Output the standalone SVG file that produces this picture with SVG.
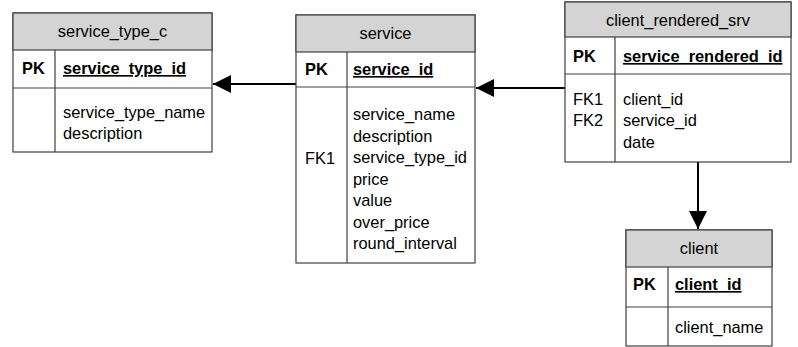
<svg xmlns="http://www.w3.org/2000/svg" width="798" height="347" viewBox="0 0 798 347">
<style>
.box{fill:#fff;stroke:#404040;stroke-width:1.2}
.hdr{fill:#d4d4d4;stroke:#404040;stroke-width:1.2}
.ln{stroke:#404040;stroke-width:1.2;fill:none}
text{font-family:"Liberation Sans",Arial,sans-serif;font-size:16.4px;fill:#000}
.h{text-anchor:middle}
.b{font-weight:bold}
.u{text-decoration:underline}
.conn{stroke:#000;stroke-width:2;fill:none}
</style>
<defs>
<marker id="arr" viewBox="0 0 18 18" refX="18" refY="9" markerWidth="18" markerHeight="18" markerUnits="userSpaceOnUse" orient="auto">
<path d="M0,0 L18,9 L0,18 Z" fill="#000"/>
</marker>
</defs>
<g id="connectors">
<line class="conn" x1="296" y1="84" x2="213" y2="84" marker-end="url(#arr)"/>
<line class="conn" x1="565" y1="88" x2="476" y2="88" marker-end="url(#arr)"/>
<line class="conn" x1="698" y1="162" x2="698" y2="229" marker-end="url(#arr)"/>
</g>
<g id="service_type_c">
<rect class="box" x="13" y="13" width="199" height="139"/>
<rect class="hdr" x="13" y="13" width="199" height="37"/>
<line class="ln" x1="13" y1="88" x2="212" y2="88"/>
<line class="ln" x1="55" y1="50" x2="55" y2="152"/>
<text class="h" x="112.5" y="37">service_type_c</text>
<text class="b" x="22" y="74">PK</text>
<text class="b u" x="63" y="74">service_type_id</text>
<text x="63" y="118">service_type_name</text>
<text x="63" y="139">description</text>
</g>
<g id="service">
<rect class="box" x="296" y="15" width="179" height="248"/>
<rect class="hdr" x="296" y="15" width="179" height="37"/>
<line class="ln" x1="296" y1="87" x2="475" y2="87"/>
<line class="ln" x1="347" y1="52" x2="347" y2="263"/>
<text class="h" x="385.5" y="39">service</text>
<text class="b" x="305" y="75">PK</text>
<text class="b u" x="353" y="75">service_id</text>
<text x="305" y="164">FK1</text>
<text x="353" y="120">service_name</text>
<text x="353" y="141.5">description</text>
<text x="353" y="163">service_type_id</text>
<text x="353" y="184.5">price</text>
<text x="353" y="206">value</text>
<text x="353" y="227.5">over_price</text>
<text x="353" y="249">round_interval</text>
</g>
<g id="client_rendered_srv">
<rect class="box" x="565" y="2" width="226" height="160"/>
<rect class="hdr" x="565" y="2" width="226" height="35"/>
<line class="ln" x1="565" y1="74" x2="791" y2="74"/>
<line class="ln" x1="615" y1="37" x2="615" y2="162"/>
<text class="h" x="678" y="26">client_rendered_srv</text>
<text class="b" x="573" y="62">PK</text>
<text class="b u" x="623" y="62">service_rendered_id</text>
<text x="573" y="105">FK1</text>
<text x="573" y="126">FK2</text>
<text x="623" y="105">client_id</text>
<text x="623" y="126">service_id</text>
<text x="623" y="148">date</text>
</g>
<g id="client">
<rect class="box" x="626" y="230" width="146" height="116"/>
<rect class="hdr" x="626" y="230" width="146" height="37"/>
<line class="ln" x1="626" y1="307" x2="772" y2="307"/>
<line class="ln" x1="668" y1="267" x2="668" y2="346"/>
<text class="h" x="699" y="254">client</text>
<text class="b" x="633" y="290">PK</text>
<text class="b u" x="675" y="290">client_id</text>
<text x="675" y="333">client_name</text>
</g>
</svg>
